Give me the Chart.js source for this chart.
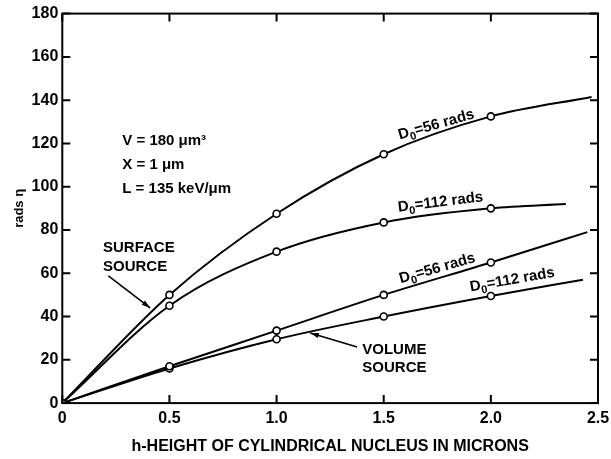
<!DOCTYPE html>
<html>
<head>
<meta charset="utf-8">
<script src="https://cdn.jsdelivr.net/npm/chart.js@4.4.0/dist/chart.umd.min.js"></script>
<style>
  html, body { margin: 0; padding: 0; background: #fff; }
  #wrap { width: 611px; height: 459px; }
</style>
</head>
<body>
<div id="wrap"><canvas id="c" width="611" height="459"></canvas></div>
<script>
// Absorbed dose vs. nucleus height for surface and volume alpha sources
const heights = [0, 0.5, 1.0, 1.5, 2.0];
const surface56 = [0, 50, 87.5, 115, 132.5];
const surface112 = [0, 45, 70, 83.5, 90];
const volume56 = [0, 17, 33.5, 50, 65];
const volume112 = [0, 16, 29.5, 40, 49.5];
// where each drawn curve stops (no marker there)
const surface56End = [2.47, 141.5];
const surface112End = [2.35, 92];
const volume56End = [2.45, 79];
const volume112End = [2.43, 57];

const xTicks = [0, 0.5, 1.0, 1.5, 2.0, 2.5];
const yTicks = [0, 20, 40, 60, 80, 100, 120, 140, 160, 180];

const FONT = '"Liberation Sans", Arial, sans-serif';

function series(vals, end) {
  const pts = heights.map((h, i) => ({ x: h, y: vals[i] }));
  pts.push({ x: end[0], y: end[1] });
  return pts;
}
function radii(n) {
  const r = new Array(n).fill(3.5);
  r[n - 1] = 0;
  return r;
}
function dataset(vals, end) {
  const d = series(vals, end);
  return {
    data: d,
    showLine: true,
    borderColor: '#000',
    borderWidth: 2,
    cubicInterpolationMode: 'monotone',
    pointRadius: radii(d.length),
    pointBackgroundColor: '#fff',
    pointBorderColor: '#000',
    pointBorderWidth: 1.6
  };
}

// Frame, inward ticks and the lettered notes
const notes = {
  id: 'notes',
  afterDraw(chart) {
    const { ctx, chartArea: a, scales: { x, y } } = chart;
    ctx.save();
    ctx.strokeStyle = '#000';
    ctx.lineWidth = 2;
    ctx.strokeRect(a.left, a.top, a.right - a.left, a.bottom - a.top);
    const tl = 8;
    ctx.beginPath();
    xTicks.forEach(v => {
      const px = x.getPixelForValue(v);
      ctx.moveTo(px, a.bottom); ctx.lineTo(px, a.bottom - tl);
      ctx.moveTo(px, a.top); ctx.lineTo(px, a.top + tl);
    });
    yTicks.forEach(v => {
      const py = y.getPixelForValue(v);
      ctx.moveTo(a.left, py); ctx.lineTo(a.left + tl, py);
      ctx.moveTo(a.right, py); ctx.lineTo(a.right - tl, py);
    });
    ctx.stroke();

    ctx.fillStyle = '#000';
    ctx.textBaseline = 'middle';
    ctx.textAlign = 'left';
    const P = (vx, vy) => [x.getPixelForValue(vx), y.getPixelForValue(vy)];
    const F = (s) => 'bold ' + s + 'px ' + FONT;

    // parameters block
    ctx.font = F(15);
    let [px, py] = P(0.28, 121);
    ctx.fillText('V = 180 \u03BCm\u00B3', px, py);
    [px, py] = P(0.28, 110);
    ctx.fillText('X = 1 \u03BCm', px, py);
    [px, py] = P(0.28, 99);
    ctx.fillText('L = 135 keV/\u03BCm', px, py);

    // source labels
    ctx.font = F(15);
    [px, py] = P(0.19, 71.7);
    ctx.fillText('SURFACE', px, py);
    [px, py] = P(0.19, 63);
    ctx.fillText('SOURCE', px, py);
    [px, py] = P(1.40, 24.5);
    ctx.fillText('VOLUME', px, py);
    [px, py] = P(1.40, 16.2);
    ctx.fillText('SOURCE', px, py);

    function arrow(x0, y0, x1, y1) {
      const [a0, b0] = P(x0, y0), [a1, b1] = P(x1, y1);
      ctx.lineWidth = 1.6;
      ctx.beginPath(); ctx.moveTo(a0, b0); ctx.lineTo(a1, b1); ctx.stroke();
      const ang = Math.atan2(b1 - b0, a1 - a0), L = 9, W = 0.3;
      ctx.beginPath();
      ctx.moveTo(a1, b1);
      ctx.lineTo(a1 - L * Math.cos(ang - W), b1 - L * Math.sin(ang - W));
      ctx.lineTo(a1 - L * Math.cos(ang + W), b1 - L * Math.sin(ang + W));
      ctx.closePath(); ctx.fill();
    }
    arrow(0.215, 58.8, 0.41, 44);
    arrow(1.376, 25.9, 1.157, 32.4);

    // dose labels along the curves
    function dose(vx, vy, deg, val) {
      const [cx, cy] = P(vx, vy);
      ctx.save();
      ctx.translate(cx, cy);
      ctx.rotate(-deg * Math.PI / 180);
      const big = F(15), small = F(11);
      const rest = '=' + val + ' rads';
      ctx.font = big;
      const wD = ctx.measureText('D').width;
      const wR = ctx.measureText(rest).width;
      ctx.font = small;
      const w0 = ctx.measureText('0').width;
      const sx = -(wD + w0 + wR) / 2;
      ctx.font = big;
      ctx.fillText('D', sx, 0);
      ctx.font = small;
      ctx.fillText('0', sx + wD, 5);
      ctx.font = big;
      ctx.fillText(rest, sx + wD + w0, 0);
      ctx.restore();
    }
    dose(1.745, 128.6, 16, '56');
    dose(1.765, 92.8, 7, '112');
    dose(1.75, 62.2, 16, '56');
    dose(2.1, 56.9, 10, '112');
    ctx.restore();
  }
};

new Chart(document.getElementById('c'), {
  type: 'scatter',
  data: {
    datasets: [
      dataset(surface56, surface56End),
      dataset(surface112, surface112End),
      dataset(volume56, volume56End),
      dataset(volume112, volume112End)
    ]
  },
  options: {
    responsive: false,
    animation: false,
    layout: { padding: { left: 0, right: 6, top: 9, bottom: 2.5 } },
    plugins: { legend: { display: false }, tooltip: { enabled: false } },
    scales: {
      x: {
        type: 'linear', min: 0, max: 2.5,
        afterBuildTicks: s => { s.ticks = xTicks.map(v => ({ value: v })); },
        afterFit: s => { s.paddingRight = 13; },
        grid: { display: false, drawTicks: false },
        border: { display: false },
        ticks: {
          color: '#000', padding: 6,
          font: { family: FONT, size: 16, weight: 'bold' },
          callback: v => v === 0 ? '0' : v.toFixed(1)
        },
        title: {
          display: true, text: 'h-HEIGHT OF CYLINDRICAL NUCLEUS IN MICRONS',
          color: '#000', font: { family: FONT, size: 16, weight: 'bold' }, padding: { top: 3, bottom: 0 }
        }
      },
      y: {
        type: 'linear', min: 0, max: 180,
        afterBuildTicks: s => { s.ticks = yTicks.map(v => ({ value: v })); },
        grid: { display: false, drawTicks: false },
        border: { display: false },
        ticks: {
          color: '#000', padding: 4,
          font: { family: FONT, size: 16, weight: 'bold' }
        },
        title: {
          display: true, text: 'rads \u03B7',
          color: '#000', font: { family: FONT, size: 13, weight: 'bold' }, padding: { top: 12, bottom: 0 }
        }
      }
    }
  },
  plugins: [notes]
});
</script>
</body>
</html>
